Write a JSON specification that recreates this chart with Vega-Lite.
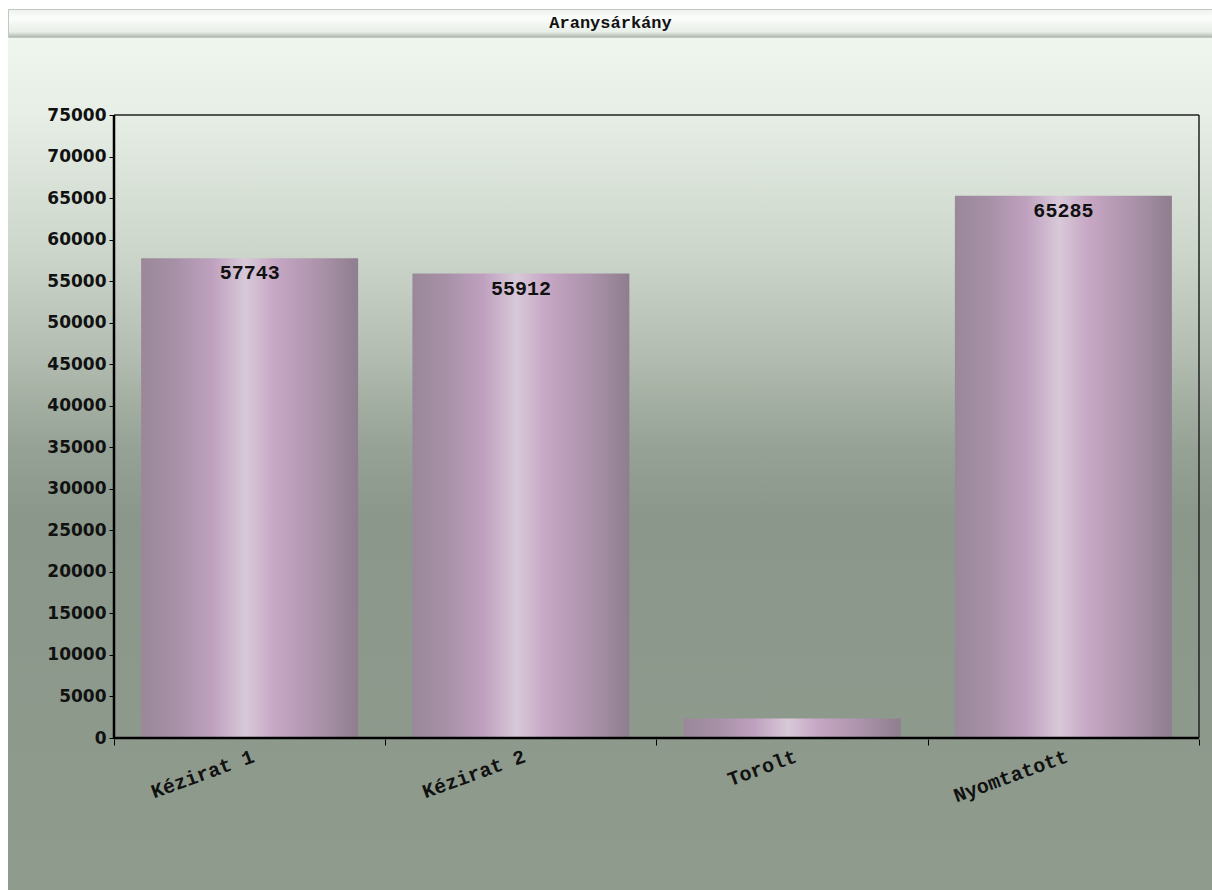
{
  "$schema": "https://vega.github.io/schema/vega-lite/v6.json",
  "background": "#ffffff",
  "padding": {"left": 7, "top": 8, "right": 0, "bottom": 0},
  "config": {"view": {"stroke": null}},
  "columns": 1,
  "align": "none",
  "spacing": 0,
  "concat": [
    {
      "width": 1205,
      "height": 28,
      "view": {
        "fill": {"gradient": "linear", "x1": 0, "y1": 0, "x2": 0, "y2": 1,
          "stops": [
            {"offset": 0, "color": "#eef2ee"},
            {"offset": 0.3, "color": "#fbfdfb"},
            {"offset": 0.8, "color": "#e8eee8"},
            {"offset": 0.92, "color": "#c4ccc4"},
            {"offset": 1, "color": "#a8b0a8"}
          ]},
        "stroke": "#c0c8c0"
      },
      "data": {"values": [{"title": "Aranysárkány"}]},
      "mark": {"type": "text", "font": "Liberation Mono", "fontWeight": "bold", "fontSize": 17, "color": "#111111"},
      "encoding": {"text": {"field": "title", "type": "nominal"}}
    },
    {
      "width": 1205,
      "height": 853,
      "view": {
        "fill": {"gradient": "linear", "x1": 0, "y1": 0, "x2": 0, "y2": 1,
          "stops": [
            {"offset": 0, "color": "#eef6ee"},
            {"offset": 0.09, "color": "#e6eee5"},
            {"offset": 0.25, "color": "#cdd6cb"},
            {"offset": 0.37, "color": "#b3bdb1"},
            {"offset": 0.48, "color": "#96a295"},
            {"offset": 0.56, "color": "#8b978a"},
            {"offset": 1, "color": "#8f9b8d"}
          ]},
        "stroke": null
      },
      "data": {"values": [
        {"kategoria": "Kézirat 1", "ertek": 57743},
        {"kategoria": "Kézirat 2", "ertek": 55912},
        {"kategoria": "Torolt", "ertek": 2350},
        {"kategoria": "Nyomtatott", "ertek": 65285}
      ]},
      "layer": [
        {
          "mark": {
            "type": "bar",
            "width": {"band": 0.8},
            "color": {"gradient": "linear", "x1": 0, "y1": 0, "x2": 1, "y2": 0,
              "stops": [
                {"offset": 0, "color": "#9a889a"},
                {"offset": 0.15, "color": "#a690a6"},
                {"offset": 0.33, "color": "#bfa1bf"},
                {"offset": 0.48, "color": "#d8c9d8"},
                {"offset": 0.62, "color": "#c6a6c4"},
                {"offset": 0.82, "color": "#ab93aa"},
                {"offset": 1, "color": "#8e7e8e"}
              ]}
          },
          "encoding": {
            "x": {
              "field": "kategoria", "type": "nominal", "sort": null,
              "scale": {
                "domain": ["Kézirat 1", "Kézirat 2", "Torolt", "Nyomtatott"],
                "paddingInner": 0, "paddingOuter": 0.2212, "align": 0.88333
              },
              "axis": {
                "orient": "bottom", "offset": -152, "title": null, "domain": false,
                "tickBand": "extent", "tickSize": 6, "tickColor": "#000000", "tickWidth": 1,
                "labelAngle": -20, "labelAlign": "right", "labelBaseline": "top",
                "labelFont": "Liberation Mono", "labelFontWeight": "bold", "labelFontSize": 20,
                "labelColor": "#111111", "labelPadding": 1
              }
            },
            "y": {
              "field": "ertek", "type": "quantitative",
              "scale": {"domain": [-18418, 84270], "nice": false, "zero": false},
              "axis": {
                "title": null, "domain": false, "grid": false, "offset": -106, "format": "d",
                "values": [0, 5000, 10000, 15000, 20000, 25000, 30000, 35000, 40000, 45000, 50000, 55000, 60000, 65000, 70000, 75000],
                "tickSize": 5, "tickColor": "#000000",
                "labelFont": "DejaVu Sans", "labelFontWeight": "bold", "labelFontSize": 17,
                "labelColor": "#111111", "labelPadding": 3
              }
            }
          }
        },
        {
          "transform": [{"filter": "datum.ertek > 10000"}],
          "mark": {"type": "text", "baseline": "top", "dy": 5, "font": "Liberation Mono", "fontWeight": "bold", "fontSize": 20, "color": "#111111"},
          "encoding": {
            "x": {"field": "kategoria", "type": "nominal", "sort": null},
            "y": {"field": "ertek", "type": "quantitative"},
            "text": {"field": "ertek", "type": "quantitative"}
          }
        },
        {
          "data": {"values": [{}]},
          "mark": {"type": "rule", "stroke": "#222222", "strokeWidth": 1.5},
          "encoding": {
            "x": {"datum": "Kézirat 1", "bandPosition": 0},
            "x2": {"datum": "Nyomtatott", "bandPosition": 1},
            "y": {"datum": 75000}
          }
        },
        {
          "data": {"values": [{}]},
          "mark": {"type": "rule", "stroke": "#000000", "strokeWidth": 2.5},
          "encoding": {
            "x": {"datum": "Kézirat 1", "bandPosition": 0},
            "x2": {"datum": "Nyomtatott", "bandPosition": 1},
            "y": {"datum": 0}
          }
        },
        {
          "data": {"values": [{}]},
          "mark": {"type": "rule", "stroke": "#000000", "strokeWidth": 2.5},
          "encoding": {
            "x": {"datum": "Kézirat 1", "bandPosition": 0},
            "y": {"datum": 0},
            "y2": {"datum": 75000}
          }
        },
        {
          "data": {"values": [{}]},
          "mark": {"type": "rule", "stroke": "#222222", "strokeWidth": 1.5},
          "encoding": {
            "x": {"datum": "Nyomtatott", "bandPosition": 1},
            "y": {"datum": 0},
            "y2": {"datum": 75000}
          }
        }
      ]
    }
  ]
}
